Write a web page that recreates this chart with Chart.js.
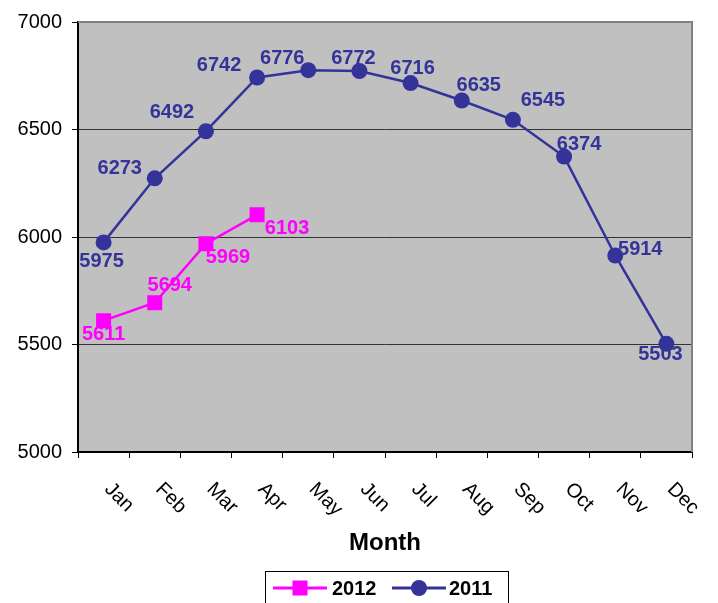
<!DOCTYPE html>
<html>
<head>
<meta charset="utf-8">
<script src="https://cdn.jsdelivr.net/npm/chart.js@4/dist/chart.umd.min.js"></script>
<style>
  html, body { margin: 0; padding: 0; background: #fff; }
  #wrap { width: 718px; height: 603px; }
</style>
</head>
<body>
<div id="wrap"><canvas id="monthChart"></canvas></div>
<script>
const months = ['Jan', 'Feb', 'Mar', 'Apr', 'May', 'Jun', 'Jul', 'Aug', 'Sep', 'Oct', 'Nov', 'Dec'];
const values2012 = [5611, 5694, 5969, 6103, null, null, null, null, null, null, null, null];
const values2011 = [5975, 6273, 6492, 6742, 6776, 6772, 6716, 6635, 6545, 6374, 5914, 5503];
const yTicks = [5000, 5500, 6000, 6500, 7000];

// label nudges (px) relative to each point, like Excel placed them
const nudge2012 = [[0, 14], [15, -17], [22, 14], [30, 14]];
const nudge2011 = [[-2, 19], [-35, -10], [-34, -19], [-38, -12], [-26, -12], [-6, -13],
                   [2, -15], [17, -15], [30, -19], [15, -12], [25, -6], [-6, 11]];

const MAGENTA = '#FF00FF';
const NAVY = '#333399';
const FONT = 'Liberation Sans, Arial, sans-serif';

// gray plot background + gray top/right frame
const plotFrame = {
  id: 'plotFrame',
  beforeDraw(chart) {
    const {ctx, chartArea: a} = chart;
    ctx.save();
    ctx.fillStyle = '#C0C0C0';
    ctx.fillRect(a.left, a.top, a.right - a.left, a.bottom - a.top);
    ctx.restore();
  },
  afterDatasetsDraw(chart) {
    const {ctx, chartArea: a} = chart;
    ctx.save();
    ctx.strokeStyle = '#808080';
    ctx.lineWidth = 2;
    ctx.beginPath();
    ctx.moveTo(a.left, a.top);
    ctx.lineTo(a.right, a.top);
    ctx.lineTo(a.right, a.bottom);
    ctx.stroke();
    ctx.restore();
  }
};

// value labels next to each point
const valueLabels = {
  id: 'valueLabels',
  afterDatasetsDraw(chart) {
    const {ctx} = chart;
    const nudges = [nudge2012, nudge2011];
    ctx.save();
    ctx.font = 'bold 20px ' + FONT;
    ctx.textAlign = 'center';
    ctx.textBaseline = 'middle';
    chart.data.datasets.forEach((ds, di) => {
      const meta = chart.getDatasetMeta(di);
      ctx.fillStyle = ds.borderColor;
      meta.data.forEach((pt, i) => {
        if (ds.data[i] == null) return;
        const n = nudges[di][i];
        ctx.fillText(String(ds.data[i]), pt.x + n[0], pt.y + n[1]);
      });
    });
    ctx.restore();
  }
};

// slanted month labels (text running down-right from the category centre)
const slantedLabels = {
  id: 'slantedLabels',
  afterDraw(chart) {
    const {ctx} = chart;
    const xs = chart.scales.x;
    ctx.save();
    ctx.font = '20px ' + FONT;
    ctx.fillStyle = '#000';
    ctx.textAlign = 'left';
    ctx.textBaseline = 'middle';
    months.forEach((m, i) => {
      const x = xs.getPixelForTick(i);
      ctx.save();
      ctx.translate(x + 4, xs.top + 34);
      ctx.rotate(Math.PI / 4);
      ctx.fillText(m, 0, 0);
      ctx.restore();
    });
    ctx.restore();
  }
};

// Excel style legend: line + marker, inside a framed box
const boxLegend = {
  id: 'boxLegend',
  afterDraw(chart) {
    const {ctx} = chart;
    const y = 588;
    ctx.save();
    ctx.strokeStyle = '#000';
    ctx.lineWidth = 1;
    ctx.strokeRect(265.5, 571.5, 243, 40);

    ctx.lineWidth = 3;
    ctx.strokeStyle = MAGENTA;
    ctx.beginPath(); ctx.moveTo(273, y); ctx.lineTo(327, y); ctx.stroke();
    ctx.fillStyle = MAGENTA;
    ctx.fillRect(300 - 7.5, y - 7.5, 15, 15);

    ctx.strokeStyle = NAVY;
    ctx.beginPath(); ctx.moveTo(392, y); ctx.lineTo(446, y); ctx.stroke();
    ctx.fillStyle = NAVY;
    ctx.beginPath(); ctx.arc(419, y, 8, 0, Math.PI * 2); ctx.fill();

    ctx.fillStyle = '#000';
    ctx.font = 'bold 20px ' + FONT;
    ctx.textAlign = 'left';
    ctx.textBaseline = 'middle';
    ctx.fillText(chart.data.datasets[0].label, 332, y + 1);
    ctx.fillText(chart.data.datasets[1].label, 449, y + 1);
    ctx.restore();
  }
};

new Chart(document.getElementById('monthChart'), {
  type: 'line',
  data: {
    labels: months,
    datasets: [
      {
        label: '2012',
        data: values2012,
        borderColor: MAGENTA,
        backgroundColor: MAGENTA,
        borderWidth: 2.5,
        pointStyle: 'rect',
        pointRadius: 10.6,
        pointBorderWidth: 0,
        spanGaps: false
      },
      {
        label: '2011',
        data: values2011,
        borderColor: NAVY,
        backgroundColor: NAVY,
        borderWidth: 2.5,
        pointStyle: 'circle',
        pointRadius: 8,
        pointBorderWidth: 0
      }
    ]
  },
  options: {
    responsive: true,
    maintainAspectRatio: false,
    animation: false,
    events: [],
    layout: { padding: { left: 0, right: 26, top: 19, bottom: 0 } },
    plugins: {
      legend: { display: false },
      tooltip: { enabled: false }
    },
    scales: {
      x: {
        type: 'category',
        offset: true,
        afterFit(scale) { scale.height = 151; },
        ticks: { display: false },
        grid: {
          offset: true,
          drawOnChartArea: false,
          drawTicks: true,
          tickLength: 6,
          color: '#000',
          lineWidth: 1
        },
        border: { display: true, color: '#000', width: 2 },
        title: {
          display: true,
          text: 'Month',
          color: '#000',
          font: { family: FONT, size: 24, weight: 'bold' },
          padding: { top: 0, bottom: 45.6 }
        }
      },
      y: {
        min: yTicks[0],
        max: yTicks[yTicks.length - 1],
        afterFit(scale) { scale.width = 78; },
        afterBuildTicks(scale) { scale.ticks = yTicks.map(v => ({ value: v })); },
        ticks: {
          color: '#000',
          padding: 10,
          font: { family: FONT, size: 20 },
          callback: (v) => String(v)
        },
        grid: {
          color: (c) => (c.tick && c.tick.value === 7000 ? '#808080' : '#333'),
          tickColor: '#000',
          lineWidth: 1,
          drawTicks: true,
          tickLength: 6
        },
        border: { display: true, color: '#000', width: 2 }
      }
    }
  },
  plugins: [plotFrame, valueLabels, slantedLabels, boxLegend]
});
</script>
</body>
</html>
